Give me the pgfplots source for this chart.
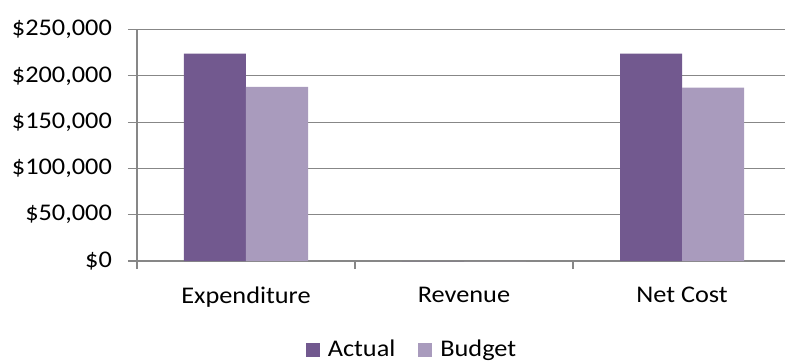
\documentclass[border=0pt]{standalone}
\usepackage{pgfplots}
\pgfplotsset{compat=1.18}
\usepackage{fontspec}
\setmainfont{Carlito}[FakeStretch=1.1]
\definecolor{actual}{RGB}{114,89,143}
\definecolor{budget}{RGB}{169,155,189}
\definecolor{gridgray}{RGB}{135,135,135}
\begin{document}
\fontsize{24}{28}\selectfont
\begin{tikzpicture}
\useasboundingbox (-137bp,-102bp) rectangle (648bp,261bp);
\begin{axis}[
  at={(0,0)}, anchor=south west,
  scale only axis,
  width=648bp, height=231.5bp,
  xmin=-0.5, xmax=2.4725,
  ymin=0, ymax=250000,
  scaled y ticks=false,
  ybar=0pt, bar width=62bp,
  axis x line*=bottom, axis y line*=left,
  axis line style={gridgray, line width=1.1bp, -},
  ymajorgrids, grid style={gridgray, line width=1.1bp},
  tick align=outside,
  major tick length=9bp, minor tick length=8bp,
  tick style={gridgray, line width=1.1bp},
  xtick={0,1,2},
  xticklabels={Expenditure,Revenue,Net Cost},
  every major x tick/.style={draw=none},
  minor xtick={-0.5,0.5,1.5},
  ytick={0,50000,100000,150000,200000,250000},
  yticklabels={{\$0},{\$50,000},{\$100,000},{\$150,000},{\$200,000},{\$250,000}},
  yticklabel style={font=\fontsize{24}{28}\selectfont, xshift=-8bp},
  xticklabel style={font=\fontsize{24}{28}\selectfont, yshift=-9bp},
  legend style={at={(0.4244,-0.3845)}, anchor=center, draw=none, fill=none,
    legend columns=2, font=\fontsize{24}{28}\selectfont,
    /tikz/every odd column/.append style={column sep=6bp},
    /tikz/every even column/.append style={column sep=21bp}},
  legend image code/.code={\fill[#1] (0bp,-7bp) rectangle (14bp,7bp);},
]
\addplot[fill=actual, draw=none] coordinates {(0,224000) (1,0) (2,224000)};
\addplot[fill=budget, draw=none] coordinates {(0,188000) (1,0) (2,187300)};
\legend{Actual,Budget}
\end{axis}
\end{tikzpicture}
\end{document}
